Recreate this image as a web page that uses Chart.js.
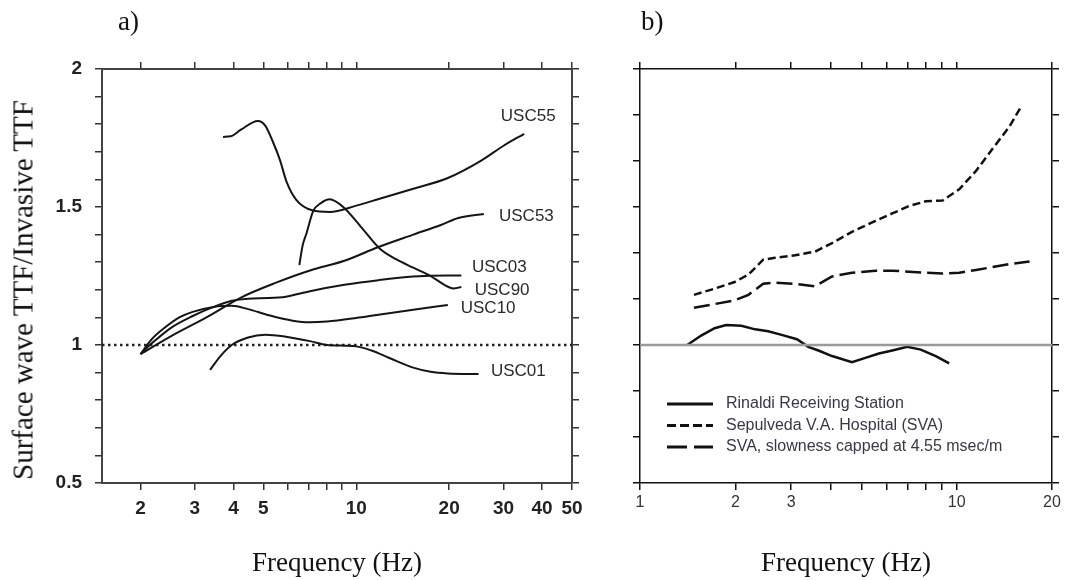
<!DOCTYPE html>
<html>
<head>
<meta charset="utf-8">
<script src="https://cdn.jsdelivr.net/npm/chart.js@4.4.1/dist/chart.umd.min.js"></script>
<style>
    body { margin: 0; background: #fff; }
    #wrap { position: relative; width: 1067px; height: 580px; overflow: hidden; background: #fff; }
    #leftCanvas { position: absolute; left: 0; top: 0; }
    #rightCanvas { position: absolute; left: 600px; top: 0; }
    .panel-tag {
        position: absolute;
        top: 6px;
        font-family: "Liberation Serif", "Times New Roman", serif;
        font-size: 27px;
        color: #111;
    }
    #yTitle {
        position: absolute;
        left: 23px;
        top: 290px;
        transform: translate(-50%, -50%) rotate(-90deg);
        white-space: nowrap;
        font-family: "Liberation Serif", "Times New Roman", serif;
        font-size: 29px;
        color: #111;
    }
</style>
</head>
<body>
<div id="wrap">
    <canvas id="leftCanvas" width="600" height="580"></canvas>
    <canvas id="rightCanvas" width="467" height="580"></canvas>
    <div class="panel-tag" style="left: 118px;">a)</div>
    <div class="panel-tag" style="left: 641px;">b)</div>
    <div id="yTitle">Surface wave TTF/Invasive TTF</div>
</div>
<script>
// panel a) - ratio per station
const X_RANGE_A = [1.5, 50];
const Y_RANGE_A = [0.5, 2];
const xTicksA = [2, 3, 4, 5, 6, 7, 8, 9, 10, 20, 30, 40, 50];
const xLabelsA = [2, 3, 4, 5, 10, 20, 30, 40, 50];
const yTicksA = [0.5, 0.6, 0.7, 0.8, 0.9, 1.0, 1.1, 1.2, 1.3, 1.4, 1.5, 1.6, 1.7, 1.8, 1.9, 2.0];
const yLabelsA = [0.5, 1, 1.5, 2];
const REF_LEVEL = 1;

const usc55Freq = [3.7, 3.92, 4.23, 4.8, 5.07, 5.35, 5.66, 5.95, 6.4, 7.2, 8.2, 10.0, 11.9, 15.3, 19.8, 25.4, 30.0, 35.0];
const usc55Ratio = [1.754, 1.756, 1.78, 1.812, 1.795, 1.74, 1.67, 1.59, 1.525, 1.488, 1.482, 1.505, 1.53, 1.566, 1.605, 1.668, 1.722, 1.765];

const usc90Freq = [6.54, 6.7, 6.9, 7.25, 7.7, 8.2, 9.07, 10.5, 11.9, 13.5, 15.3, 17.4, 19.3, 20.6, 21.9];
const usc90Ratio = [1.29, 1.36, 1.405, 1.485, 1.515, 1.528, 1.5, 1.42, 1.35, 1.31, 1.28, 1.25, 1.218, 1.205, 1.21];

const usc53Freq = [2.0, 2.53, 3.27, 4.23, 5.47, 7.08, 9.15, 11.8, 15.3, 18.8, 21.4, 25.9];
const usc53Ratio = [0.967, 1.034, 1.1, 1.172, 1.225, 1.27, 1.305, 1.355, 1.4, 1.435, 1.46, 1.475];

const usc03Freq = [2.0, 2.17, 2.53, 2.95, 3.45, 3.95, 4.46, 5.2, 5.91, 7.08, 9.15, 11.8, 15.3, 19.8, 21.9];
const usc03Ratio = [0.967, 1.005, 1.065, 1.105, 1.138, 1.16, 1.168, 1.17, 1.175, 1.195, 1.218, 1.235, 1.248, 1.252, 1.252];

const usc10Freq = [2.0, 2.17, 2.41, 2.67, 2.95, 3.45, 3.95, 4.46, 5.2, 6.22, 7.08, 8.04, 10.0, 11.8, 15.3, 19.8];
const usc10Ratio = [0.967, 1.02, 1.065, 1.1, 1.12, 1.138, 1.142, 1.13, 1.108, 1.088, 1.082, 1.085, 1.098, 1.11, 1.128, 1.145];

const usc01Freq = [3.36, 3.63, 3.95, 4.46, 5.07, 5.91, 7.08, 8.04, 10.0, 11.2, 12.8, 15.3, 17.4, 19.8, 24.9];
const usc01Ratio = [0.91, 0.96, 1.0, 1.027, 1.037, 1.03, 1.014, 1.0, 0.995, 0.98, 0.953, 0.918, 0.903, 0.897, 0.895];

const stationNames = ["USC55", "USC53", "USC03", "USC90", "USC10", "USC01"];
const stationLabelFreq = [29.4, 29.0, 23.7, 24.2, 21.8, 27.3];
const stationLabelRatio = [1.83, 1.467, 1.28, 1.199, 1.132, 0.904];

// panel b) - three sites
const X_RANGE_B = [1, 20];
const Y_RANGE_B = [0.4, 2.2];
const xTicksB = [1, 2, 3, 4, 5, 6, 7, 8, 9, 10, 20];
const xLabelsB = [1, 2, 3, 10, 20];
const yTicksB = [0.4, 0.6, 0.8, 1.0, 1.2, 1.4, 1.6, 1.8, 2.0, 2.2];

const rinaldiFreq = [1.41, 1.56, 1.72, 1.87, 2.09, 2.31, 2.54, 2.8, 3.13, 3.4, 3.66, 4.04, 4.67, 5.15, 5.68, 6.26, 6.98, 7.7, 8.59, 9.47];
const rinaldiRatio = [1.0, 1.041, 1.073, 1.087, 1.084, 1.068, 1.06, 1.044, 1.025, 0.992, 0.976, 0.952, 0.925, 0.944, 0.963, 0.976, 0.992, 0.98, 0.952, 0.92];

const svaFreq = [1.48, 1.72, 1.99, 2.2, 2.45, 2.67, 3.09, 3.57, 4.04, 4.67, 5.54, 6.26, 7.07, 7.99, 9.02, 10.19, 11.51, 13.0, 14.68, 16.06];
const svaRatio = [1.218, 1.245, 1.274, 1.306, 1.371, 1.379, 1.39, 1.406, 1.443, 1.492, 1.54, 1.572, 1.604, 1.625, 1.628, 1.677, 1.757, 1.854, 1.95, 2.042];

const svaCapFreq = [1.48, 1.72, 1.99, 2.2, 2.45, 2.67, 3.09, 3.57, 4.04, 4.67, 5.54, 6.26, 7.07, 7.99, 9.02, 10.19, 11.51, 13.0, 14.68, 16.99];
const svaCapRatio = [1.162, 1.178, 1.194, 1.218, 1.266, 1.271, 1.266, 1.255, 1.298, 1.314, 1.323, 1.323, 1.319, 1.314, 1.311, 1.314, 1.326, 1.339, 1.352, 1.363];

const seriesNamesB = [
    "Rinaldi Receiving Station",
    "Sepulveda V.A. Hospital (SVA)",
    "SVA, slowness capped at 4.55 msec/m"
];

const SANS = '"Liberation Sans", Arial, Helvetica, sans-serif';
const SERIF = '"Liberation Serif", "Times New Roman", serif';

Chart.defaults.font.family = SANS;
Chart.defaults.animation = false;

function toPoints(freqs, ratios) {

    return freqs.map((f, i) => ({ x: f, y: ratios[i] }));
}

function fixedSize(size) {

    return (scale) => {

        if (scale.isHorizontal()) {
            scale.height = size;
        } else {
            scale.width = size;
        }
    };
}

function useTicks(values) {

    return (scale) => {

        scale.ticks = values.map((value) => ({ value }));
    };
}

function labelOnly(list) {

    return (value) => (list.some((v) => Math.abs(v - value) < 1e-6) ? String(value) : "");
}

function stationLine(freqs, ratios) {

    return {
        data: toPoints(freqs, ratios),
        borderColor: "#151515",
        borderWidth: 2,
        pointRadius: 0,
        cubicInterpolationMode: "monotone",
        xAxisID: "x",
        yAxisID: "y"
    };
}

// text beside the end of each curve, placed through the scales
const curveLabelPlugin = {
    id: "curveLabels",
    afterDatasetsDraw(chart, args, opts) {

        const { ctx, scales } = chart;

        ctx.save();
        ctx.font = opts.font;
        ctx.fillStyle = opts.color;
        ctx.textAlign = "left";
        ctx.textBaseline = "middle";

        opts.names.forEach((name, i) => {

            ctx.fillText(
                name,
                scales.x.getPixelForValue(opts.xs[i]),
                scales.y.getPixelForValue(opts.ys[i])
            );
        });

        ctx.restore();
    }
};

// legend drawn inside the plot area, like the original figure
const inPlotLegendPlugin = {
    id: "inPlotLegend",
    afterDatasetsDraw(chart, args, opts) {

        const { ctx, chartArea } = chart;
        const items = chart.data.datasets.filter((ds) => ds.inLegend);

        ctx.save();
        ctx.font = opts.font;
        ctx.textAlign = "left";
        ctx.textBaseline = "middle";

        items.forEach((ds, i) => {

            const x0 = chartArea.left + opts.left;
            const y = chartArea.top + opts.top + i * opts.rowGap;

            ctx.beginPath();
            ctx.setLineDash(ds.legendDash || []);
            ctx.lineWidth = opts.lineWidth;
            ctx.strokeStyle = ds.borderColor;
            ctx.moveTo(x0, y);
            ctx.lineTo(x0 + opts.lineLength, y);
            ctx.stroke();

            ctx.setLineDash([]);
            ctx.fillStyle = opts.color;
            ctx.fillText(ds.label, x0 + opts.lineLength + opts.gap, y);
        });

        ctx.restore();
    }
};

function frameAxis(extra) {

    return Object.assign({
        grid: {
            drawOnChartArea: false,
            drawTicks: true,
            tickLength: 7,
            color: "#333",
            lineWidth: 1.5
        },
        border: {
            display: true,
            color: "#444",
            width: 2
        }
    }, extra);
}

const leftChart = new Chart(document.getElementById("leftCanvas"), {
    type: "line",
    data: {
        datasets: [
            stationLine(usc55Freq, usc55Ratio),
            stationLine(usc90Freq, usc90Ratio),
            stationLine(usc53Freq, usc53Ratio),
            stationLine(usc03Freq, usc03Ratio),
            stationLine(usc10Freq, usc10Ratio),
            stationLine(usc01Freq, usc01Ratio),
            {
                data: [
                    { x: X_RANGE_A[0], y: REF_LEVEL },
                    { x: X_RANGE_A[1], y: REF_LEVEL }
                ],
                borderColor: "#222",
                borderWidth: 2.5,
                borderDash: [2.5, 3.5],
                pointRadius: 0,
                xAxisID: "x",
                yAxisID: "y"
            }
        ]
    },
    options: {
        responsive: false,
        devicePixelRatio: 1,
        layout: { padding: 0 },
        plugins: {
            legend: { display: false },
            tooltip: { enabled: false },
            curveLabels: {
                names: stationNames,
                xs: stationLabelFreq,
                ys: stationLabelRatio,
                font: "17px " + SANS,
                color: "#2a2a2a"
            }
        },
        scales: {
            x: frameAxis({
                type: "logarithmic",
                position: "bottom",
                min: X_RANGE_A[0],
                max: X_RANGE_A[1],
                afterBuildTicks: useTicks(xTicksA),
                afterFit: fixedSize(97),
                ticks: {
                    autoSkip: false,
                    maxRotation: 0,
                    padding: 7,
                    color: "#222",
                    font: { size: 19, weight: "bold" },
                    callback: labelOnly(xLabelsA)
                },
                title: {
                    display: true,
                    text: "Frequency (Hz)",
                    color: "#111",
                    font: { family: SERIF, size: 27 },
                    padding: { top: 0, bottom: 0 }
                }
            }),
            xTop: frameAxis({
                type: "logarithmic",
                position: "top",
                min: X_RANGE_A[0],
                max: X_RANGE_A[1],
                afterBuildTicks: useTicks(xTicksA),
                afterFit: fixedSize(69),
                ticks: { display: false, autoSkip: false }
            }),
            y: frameAxis({
                type: "linear",
                position: "left",
                min: Y_RANGE_A[0],
                max: Y_RANGE_A[1],
                afterBuildTicks: useTicks(yTicksA),
                afterFit: fixedSize(102),
                ticks: {
                    autoSkip: false,
                    padding: 13,
                    color: "#222",
                    font: { size: 19, weight: "bold" },
                    callback: labelOnly(yLabelsA)
                }
            }),
            yRight: frameAxis({
                type: "linear",
                position: "right",
                min: Y_RANGE_A[0],
                max: Y_RANGE_A[1],
                afterBuildTicks: useTicks(yTicksA),
                afterFit: fixedSize(28),
                ticks: { display: false, autoSkip: false }
            })
        }
    },
    plugins: [curveLabelPlugin]
});

function siteAxis(extra) {

    return Object.assign({
        grid: {
            drawOnChartArea: false,
            drawTicks: true,
            tickLength: 7,
            color: "#111",
            lineWidth: 1.5
        },
        border: {
            display: true,
            color: "#111",
            width: 1.5
        }
    }, extra);
}

const rightChart = new Chart(document.getElementById("rightCanvas"), {
    type: "line",
    data: {
        datasets: [
            {
                data: [
                    { x: X_RANGE_B[0], y: REF_LEVEL },
                    { x: X_RANGE_B[1], y: REF_LEVEL }
                ],
                borderColor: "#9a9a9a",
                borderWidth: 2.5,
                pointRadius: 0,
                xAxisID: "x",
                yAxisID: "y"
            },
            {
                label: seriesNamesB[0],
                inLegend: true,
                data: toPoints(rinaldiFreq, rinaldiRatio),
                borderColor: "#111",
                borderWidth: 2.5,
                pointRadius: 0,
                tension: 0,
                xAxisID: "x",
                yAxisID: "y"
            },
            {
                label: seriesNamesB[1],
                inLegend: true,
                legendDash: [9, 4],
                data: toPoints(svaFreq, svaRatio),
                borderColor: "#111",
                borderWidth: 2.5,
                borderDash: [8, 4],
                pointRadius: 0,
                tension: 0,
                xAxisID: "x",
                yAxisID: "y"
            },
            {
                label: seriesNamesB[2],
                inLegend: true,
                legendDash: [20, 7],
                data: toPoints(svaCapFreq, svaCapRatio),
                borderColor: "#111",
                borderWidth: 2.5,
                borderDash: [16, 6],
                pointRadius: 0,
                tension: 0,
                xAxisID: "x",
                yAxisID: "y"
            }
        ]
    },
    options: {
        responsive: false,
        devicePixelRatio: 1,
        layout: { padding: 0 },
        plugins: {
            legend: { display: false },
            tooltip: { enabled: false },
            inPlotLegend: {
                left: 27,
                top: 335,
                rowGap: 21.5,
                lineLength: 46,
                gap: 13,
                lineWidth: 3,
                font: "16px " + SANS,
                color: "#3b3548"
            }
        },
        scales: {
            x: siteAxis({
                type: "logarithmic",
                position: "bottom",
                min: X_RANGE_B[0],
                max: X_RANGE_B[1],
                afterBuildTicks: useTicks(xTicksB),
                afterFit: fixedSize(97),
                ticks: {
                    autoSkip: false,
                    maxRotation: 0,
                    padding: 3,
                    color: "#333",
                    font: { size: 16 },
                    callback: labelOnly(xLabelsB)
                },
                title: {
                    display: true,
                    text: "Frequency (Hz)",
                    color: "#111",
                    font: { family: SERIF, size: 27 },
                    padding: { top: 0, bottom: 0 }
                }
            }),
            xTop: siteAxis({
                type: "logarithmic",
                position: "top",
                min: X_RANGE_B[0],
                max: X_RANGE_B[1],
                afterBuildTicks: useTicks(xTicksB),
                afterFit: fixedSize(69),
                ticks: { display: false, autoSkip: false }
            }),
            y: siteAxis({
                type: "linear",
                position: "left",
                min: Y_RANGE_B[0],
                max: Y_RANGE_B[1],
                afterBuildTicks: useTicks(yTicksB),
                afterFit: fixedSize(40),
                ticks: { display: false, autoSkip: false }
            }),
            yRight: siteAxis({
                type: "linear",
                position: "right",
                min: Y_RANGE_B[0],
                max: Y_RANGE_B[1],
                afterBuildTicks: useTicks(yTicksB),
                afterFit: fixedSize(15),
                ticks: { display: false, autoSkip: false }
            })
        }
    },
    plugins: [inPlotLegendPlugin]
});
</script>
</body>
</html>
